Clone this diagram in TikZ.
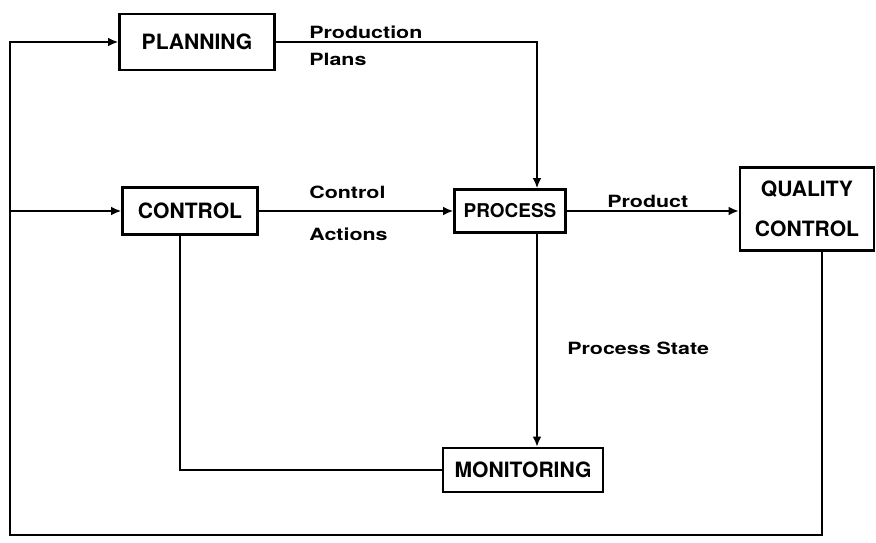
\documentclass[tikz,border=0pt]{standalone}
\usepackage{fontspec}
\setmainfont{TeX Gyre Heros}
\usetikzlibrary{arrows.meta}

\begin{document}
\begin{tikzpicture}[
    every node/.style={font=\bfseries},
    line width=1.5pt,
    flow/.style={-{Latex[length=2.6mm,width=2.2mm]}},
    blockbox/.style={
        draw=black,
        line width=1.5pt,
        fill=white,
        align=center,
        inner sep=0pt,
        font=\fontsize{15}{21}\selectfont\bfseries
    },
    flowlabel/.style={
        anchor=base west,
        inner sep=0pt,
        xscale=1.27,
        font=\fontsize{12}{14}\selectfont\bfseries
    }
]
\useasboundingbox (0,0) rectangle (21.9,13.575);

% ---------- blocks ----------
\node[blockbox, minimum width=3.875cm, minimum height=1.4cm] (planning) at (4.925,12.525) {PLANNING};
\node[blockbox, minimum width=3.375cm, minimum height=1.175cm] (control) at (4.75,8.3) {CONTROL};
\node[blockbox, minimum width=2.775cm, minimum height=1.075cm,
      font=\fontsize{13.5}{16}\selectfont\bfseries] (process) at (12.75,8.3) {PROCESS};
\node[blockbox, minimum width=3.35cm, minimum height=2.075cm] (quality) at (20.175,8.35)
    {QUALITY\\[0.25cm]CONTROL};
\node[blockbox, minimum width=4.0cm, minimum height=1.1cm] (monitoring) at (13.075,1.825) {MONITORING};

% ---------- corner points ----------
\coordinate (tl) at (0.25,12.525);
\coordinate (bl) at (0.25,0.2);
\coordinate (br) at (20.55,0.2);
\coordinate (ptap) at (13.425,8.3);
\coordinate (ctap) at (4.5,8.3);

% ---------- connectors ----------
\draw[flow] (planning.east) -- (planning.east -| ptap) -- (ptap |- process.north);
\draw[flow] (control.east) -- (process.west);
\draw[flow] (process.east) -- (quality.west |- process.east);
\draw[flow] (ptap |- process.south) -- (ptap |- monitoring.north);
\draw (ctap |- control.south) -- (ctap |- monitoring.west) -- (monitoring.west);
\draw[flow] (br |- quality.south) -- (br) -- (bl) -- (tl) -- (planning.west);
\draw[flow] (bl |- control.west) -- (control.west);

% ---------- labels ----------
\node[flowlabel] (lprod) at (7.7,12.62) {Production};
\node[flowlabel] (lplans) at (7.7,11.93) {Plans};
\node[flowlabel] (lcontrol) at (7.7,8.6) {Control};
\node[flowlabel] (lactions) at (7.7,7.55) {Actions};
\node[flowlabel] (lproduct) at (15.15,8.38) {Product};
\node[flowlabel] (lstate) at (14.15,4.7) {Process State};

\end{tikzpicture}
\end{document}
